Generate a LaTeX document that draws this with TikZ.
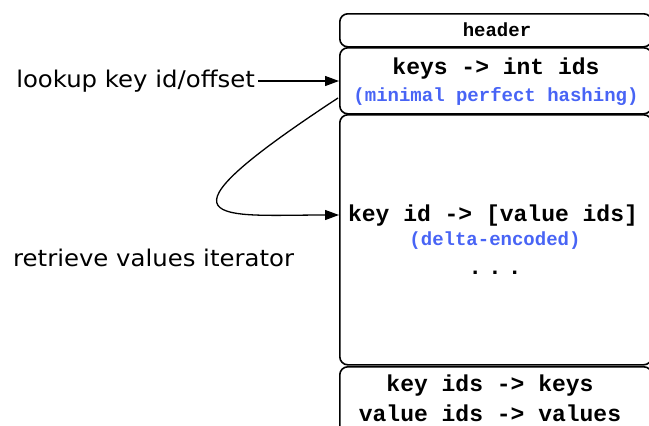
\documentclass[tikz,border=0pt]{standalone}
\usepackage{fontspec}
\setmainfont{DejaVu Sans}[FakeStretch=1.06]
\newfontfamily\codefont{Liberation Mono}
\usetikzlibrary{arrows.meta}
\definecolor{noteblue}{RGB}{72,100,245}
\tikzset{
  block/.style={draw, line width=1.6pt, rounded corners=8pt, minimum width=312pt, anchor=north west, inner sep=0pt},
  code/.style={font=\codefont\bfseries\fontsize{23}{27}\selectfont, inner sep=0pt},
  codesmall/.style={font=\codefont\bfseries\fontsize{19}{22}\selectfont, inner sep=0pt},
  note/.style={font=\codefont\bfseries\fontsize{19}{22}\selectfont, text=noteblue, inner sep=0pt},
  label/.style={font=\fontsize{23}{27}\selectfont, inner sep=0pt},
  conn/.style={line width=1.3pt, -{Triangle[length=14pt,width=10pt]}}
}
\begin{document}
\begin{tikzpicture}[x=1pt,y=-1pt]
\useasboundingbox (0,0) rectangle (649,426);
% boxes
\node[block, minimum height=33pt] (header) at (339,13) {};
\node[block, minimum height=66pt] (keys) at (339,47) {};
\node[block, minimum height=250pt] (vals) at (339,114) {};
\node[block, minimum height=80pt] (tail) at (339,366) {};
% texts in boxes
\node[codesmall] (htext) at (497,30) {header};
\node[code] (ktext) at (496,69) {keys -> int ids};
\node[note] (mph) at (496,96) {(minimal perfect hashing)};
\node[code] (vtext) at (493,216) {key id -> [value ids]};
\node[note] (delta) at (495,241) {(delta-encoded)};
\node[code, anchor=base] (dots) at (495,274) {.\hspace{6pt}.\hspace{6pt}.};
\node[code] (t1) at (490,386) {key ids -> keys};
\node[code] (t2) at (490,413) {value ids -> values};
% left labels
\node[label, anchor=east] (lookup) at (255,81) {lookup key id/offset};
\node[label, anchor=west] (retr) at (13,258) {retrieve values iterator};
% connectors
\coordinate (kin) at (keys.west |- 0,81);
\coordinate (kout) at (338,98);
\coordinate (vin) at (vals.west |- 0,215);
\draw[conn] (lookup.east) ++(3,0) -- (kin);
\draw[conn] (kout) .. controls (140,228) and (220,215) .. (vin);
\end{tikzpicture}
\end{document}
